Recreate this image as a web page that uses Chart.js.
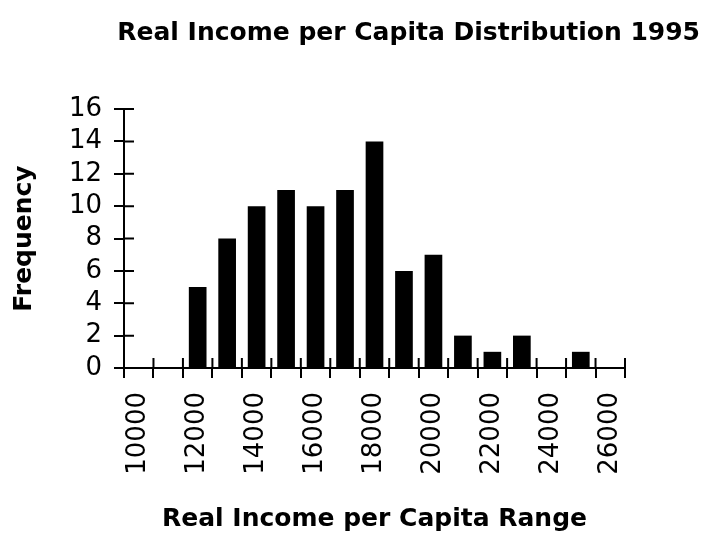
<!DOCTYPE html>
<html>
<head>
<meta charset="utf-8">
<title>Real Income per Capita Distribution 1995</title>
<script src="https://cdn.jsdelivr.net/npm/chart.js@4.4.1/dist/chart.umd.min.js"></script>
<style>
  html, body { margin: 0; padding: 0; background: #fff; }
  canvas { display: block; }
</style>
</head>
<body>
<canvas id="histChart" width="704" height="536"></canvas>
<script>
(() => {
  'use strict'

  // Income ranges (bin starts) and how many observations fall in each
  const incomeRanges = [10000, 11000, 12000, 13000, 14000, 15000, 16000, 17000, 18000,
    19000, 20000, 21000, 22000, 23000, 24000, 25000, 26000];
  const frequencies = [0, 0, 5, 8, 10, 11, 10, 11, 14, 6, 7, 2, 1, 2, 0, 1, 0];
  // only every other range gets a printed label
  const shownLabels = [10000, 12000, 14000, 16000, 18000, 20000, 22000, 24000, 26000];

  Chart.defaults.font.family = '"DejaVu Sans", Arial, sans-serif';
  Chart.defaults.color = '#000';

  // short tick stubs on the inside of both axes, so ticks cross the axis lines
  const crossTicks = {
    id: 'crossTicks',
    afterDraw(chart) {
      const { ctx, chartArea, scales: { x, y } } = chart;
      ctx.save();
      ctx.strokeStyle = '#000';
      ctx.lineWidth = 2;
      ctx.beginPath();
      y.ticks.forEach((t, i) => {
        const py = y.getPixelForTick(i);
        ctx.moveTo(chartArea.left, py);
        ctx.lineTo(chartArea.left + 10, py);
      });
      const step = x.width / x.ticks.length;
      for (let i = 0; i <= x.ticks.length; i++) {
        const px = x.left + i * step;
        ctx.moveTo(px, chartArea.bottom);
        ctx.lineTo(px, chartArea.bottom - 10);
      }
      ctx.stroke();
      ctx.restore();
    }
  };

  const ctx = document.getElementById('histChart').getContext('2d');

  new Chart(ctx, {
    type: 'bar',
    data: {
      labels: incomeRanges,
      datasets: [{
        label: 'Frequency',
        data: frequencies,
        backgroundColor: '#000',
        borderWidth: 0,
        barPercentage: 0.6,
        categoryPercentage: 1
      }]
    },
    options: {
      responsive: false,
      animation: false,
      layout: { padding: { top: 0, right: 4, bottom: 0, left: 0 } },
      plugins: {
        legend: { display: false },
        tooltip: { enabled: false },
        title: {
          display: true,
          text: 'Real Income per Capita Distribution 1995',
          align: 'end',
          color: '#000',
          font: { size: 25, weight: 'bold' },
          padding: { top: 18, bottom: 61 }
        }
      },
      scales: {
        x: {
          grid: {
            display: true,
            offset: true,
            drawOnChartArea: false,
            drawTicks: true,
            tickLength: 10,
            color: '#000',
            lineWidth: 2
          },
          border: { display: true, color: '#000', width: 2 },
          ticks: {
            autoSkip: false,
            minRotation: 90,
            maxRotation: 90,
            padding: 14,
            font: { size: 26 },
            callback: function (value) {
              const lbl = this.getLabelForValue(value);
              return shownLabels.includes(Number(lbl)) ? lbl : '';
            }
          },
          title: {
            display: true,
            text: 'Real Income per Capita Range',
            font: { size: 25, weight: 'bold' },
            padding: { top: 4, bottom: 2 }
          },
          afterFit: (scale) => { scale.height = 168; }
        },
        y: {
          min: 0,
          max: 16,
          ticks: {
            stepSize: 2,
            autoSkip: false,
            padding: 12,
            font: { size: 26 }
          },
          grid: {
            display: true,
            drawOnChartArea: false,
            drawTicks: true,
            tickLength: 10,
            color: '#000',
            lineWidth: 2
          },
          border: { display: true, color: '#000', width: 2 },
          title: {
            display: true,
            text: 'Frequency',
            font: { size: 25, weight: 'bold' },
            padding: { top: 9, bottom: 0 }
          },
          afterFit: (scale) => { scale.width = 124; }
        },
        // empty right-hand scale that only keeps room beside the plot
        gap: {
          position: 'right',
          display: true,
          grid: { display: false },
          border: { display: false },
          ticks: { display: false },
          afterFit: (scale) => { scale.width = 75; }
        }
      }
    },
    plugins: [crossTicks]
  });
})()
</script>
</body>
</html>
